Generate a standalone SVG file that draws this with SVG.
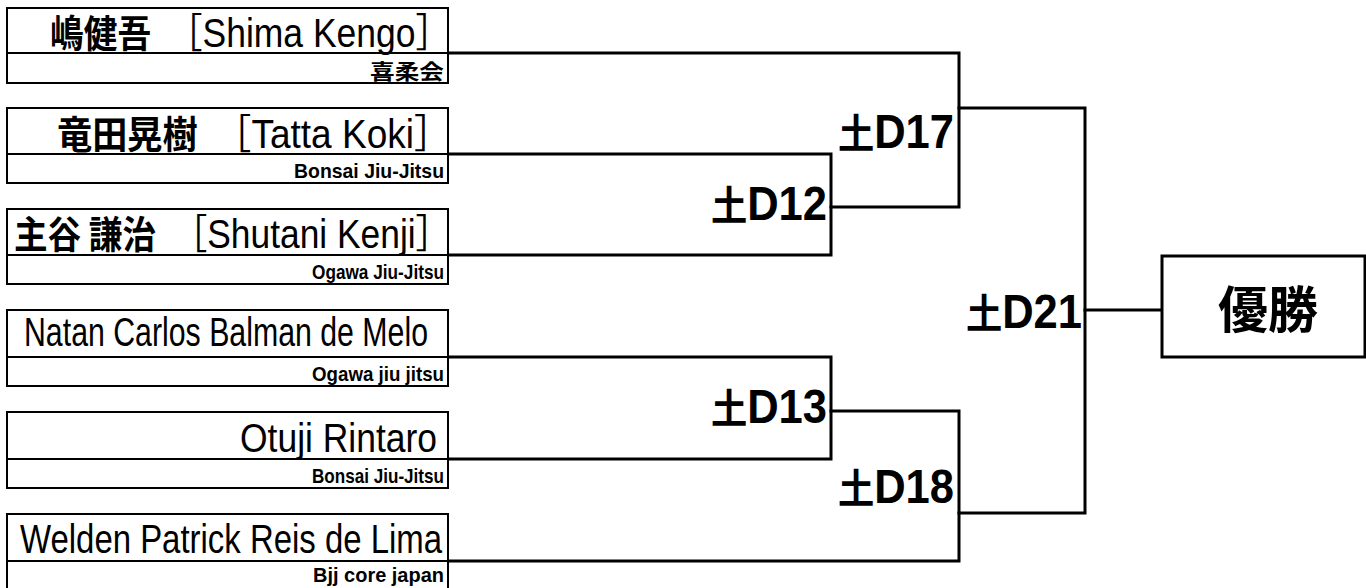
<svg xmlns="http://www.w3.org/2000/svg" width="1366" height="588" viewBox="0 0 1366 588">
<style>
.bx{fill:#fff;stroke:#000;stroke-width:2}
.dv{stroke:#000;stroke-width:2}
.cn{fill:none;stroke:#000;stroke-width:3;stroke-linecap:square}
text{font-family:"Liberation Sans","Noto Sans CJK JP",sans-serif;fill:#000}
.nm{font-size:40px;font-weight:400}
.kj{font-family:"Noto Sans CJK JP",sans-serif;font-weight:700;font-size:38px}
.cl{font-size:21px;font-weight:700;text-anchor:end}
.mt{font-size:48px;font-weight:700;text-anchor:end}
.mk{font-family:"Noto Sans CJK JP",sans-serif;font-size:40px}
</style>
<rect width="1366" height="588" fill="#fff"/>
<g id="connectors">
<path class="cn" d="M448,154 H831 V255 H448"/>
<path class="cn" d="M448,53 H959 V207 H831"/>
<path class="cn" d="M448,357 H831 V459 H448"/>
<path class="cn" d="M831,411 H959 V561 H448"/>
<path class="cn" d="M959,108 H1085 V513 H959"/>
<path class="cn" d="M1085,310 H1162"/>
</g>
<g id="p1">
<rect class="bx" x="7" y="8" width="441" height="75"/>
<line class="dv" x1="7" y1="53" x2="448" y2="53"/>
<text class="nm" x="50" y="47" textLength="401" lengthAdjust="spacingAndGlyphs"><tspan class="kj">嶋健吾　</tspan>［Shima Kengo］</text>
<text class="cl" x="444" y="79" font-family="Noto Sans CJK JP, sans-serif" font-size="18" textLength="74" lengthAdjust="spacingAndGlyphs">喜柔会</text>
</g>
<g id="p2">
<rect class="bx" x="7" y="108" width="441" height="75"/>
<line class="dv" x1="7" y1="154" x2="448" y2="154"/>
<text class="nm" x="57" y="148" textLength="394" lengthAdjust="spacingAndGlyphs"><tspan class="kj">竜田晃樹　</tspan>［Tatta Koki］</text>
<text class="cl" x="444" y="178" textLength="150" lengthAdjust="spacingAndGlyphs">Bonsai Jiu-Jitsu</text>
</g>
<g id="p3">
<rect class="bx" x="7" y="209" width="441" height="75"/>
<line class="dv" x1="7" y1="255" x2="448" y2="255"/>
<text class="nm" x="14" y="248" textLength="437" lengthAdjust="spacingAndGlyphs"><tspan class="kj">主谷 謙治　</tspan>［Shutani Kenji］</text>
<text class="cl" x="444" y="279" textLength="132" lengthAdjust="spacingAndGlyphs">Ogawa Jiu-Jitsu</text>
</g>
<g id="p4">
<rect class="bx" x="7" y="310" width="441" height="76"/>
<line class="dv" x1="7" y1="357" x2="448" y2="357"/>
<text class="nm" x="24" y="346" font-size="33" textLength="404" lengthAdjust="spacingAndGlyphs">Natan Carlos Balman de Melo</text>
<text class="cl" x="444" y="381" textLength="132" lengthAdjust="spacingAndGlyphs">Ogawa jiu jitsu</text>
</g>
<g id="p5">
<rect class="bx" x="7" y="412" width="441" height="76"/>
<line class="dv" x1="7" y1="459" x2="448" y2="459"/>
<text class="nm" x="240" y="452" font-size="38" textLength="197" lengthAdjust="spacingAndGlyphs">Otuji Rintaro</text>
<text class="cl" x="444" y="483" textLength="132" lengthAdjust="spacingAndGlyphs">Bonsai Jiu-Jitsu</text>
</g>
<g id="p6">
<rect class="bx" x="7" y="514" width="441" height="80"/>
<line class="dv" x1="7" y1="561" x2="448" y2="561"/>
<text class="nm" x="20" y="553" font-size="38" textLength="422" lengthAdjust="spacingAndGlyphs">Welden Patrick Reis de Lima</text>
<text class="cl" x="444" y="582" textLength="131" lengthAdjust="spacingAndGlyphs">Bjj core japan</text>
</g>
<g id="m12"><text class="mt" x="827" y="220" textLength="116" lengthAdjust="spacingAndGlyphs"><tspan class="mk">土</tspan>D12</text></g>
<g id="m13"><text class="mt" x="827" y="423" textLength="116" lengthAdjust="spacingAndGlyphs"><tspan class="mk">土</tspan>D13</text></g>
<g id="m17"><text class="mt" x="954" y="148" textLength="116" lengthAdjust="spacingAndGlyphs"><tspan class="mk">土</tspan>D17</text></g>
<g id="m18"><text class="mt" x="954" y="503" textLength="116" lengthAdjust="spacingAndGlyphs"><tspan class="mk">土</tspan>D18</text></g>
<g id="m21"><text class="mt" x="1082" y="328" textLength="116" lengthAdjust="spacingAndGlyphs"><tspan class="mk">土</tspan>D21</text></g>
<g id="winner">
<rect x="1162" y="256" width="203" height="101" fill="#fff" stroke="#000" stroke-width="3"/>
<text x="1268" y="328" font-family="Noto Sans CJK JP, sans-serif" font-size="50" font-weight="700" text-anchor="middle" textLength="100" lengthAdjust="spacingAndGlyphs">優勝</text>
</g>
</svg>
